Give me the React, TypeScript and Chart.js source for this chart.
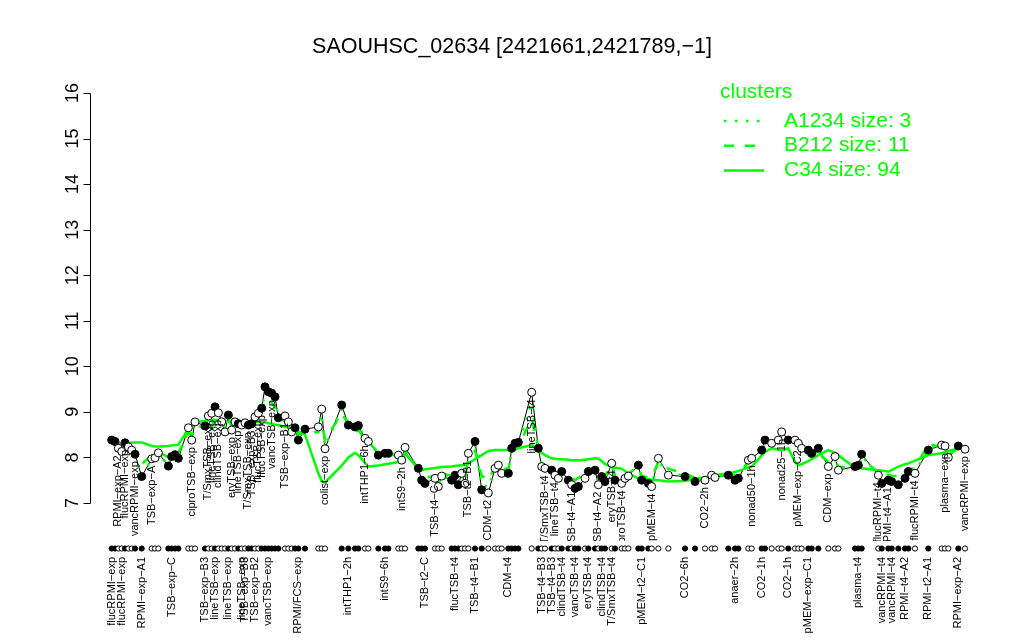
import React, { useEffect, useRef } from "react";
import { Chart, registerables } from "chart.js";

Chart.register(...registerables);

const _ = null;

const TITLE = "SAOUHSC_02634 [2421661,2421789,\u22121]";
const Y_TICKS = [7, 8, 9, 10, 11, 12, 13, 14, 15, 16];
const Y_MIN = 5.5;
const Y_MAX = 16.5;
const RUG_LEVEL = 6;

// expression of the gene per condition slot (null = empty slot between condition groups)
const expression: (number | null)[] = [
  8.38, 8.35, 8.2, 8.13, 8.32, 8.23, 8.16, 8.07, _, 7.58,
  _, _, 7.97, 7.99, 8.1, _, _, 7.81, 8.02, 8.06,
  7.98, _, _, 8.65, 8.38, 8.78, _, _, 8.69, 8.91,
  8.97, 9.11, 8.98, 8.78, 8.56, 8.93, 8.6, 8.78, 8.74, 8.71,
  8.76, 8.71, 8.74, 8.89, 8.97, 9.08, 9.55, 9.44, 9.41, 9.33,
  8.87, _, 8.91, 8.78, 8.56, 8.65, 8.38, _, 8.62, _,
  _, _, 8.67, 9.06, 8.19, _, _, _, _, 9.15,
  _, 8.71, _, 8.67, 8.7, _, 8.42, 8.35, _, _,
  8.05, _, 8.09, 8.09, _, _, 8.05, 7.94, 8.22, _,
  _, _, 7.76, 7.5, 7.43, _, _, 7.54, 7.36, 7.59,
  _, _, 7.5, 7.61, 7.4, 7.65, 7.43, 8.09, _, 8.35,
  _, 7.29, _, 7.22, _, 7.76, 7.83, 7.65, _, 7.65,
  8.2, 8.31, 8.33, _, _, _, 9.43, _, 8.2, 7.8,
  7.76, _, 7.72, 7.61, 7.54, 7.69, _, 7.5, 7.4, 7.32,
  7.36, _, 7.54, 7.69, _, 7.72, 7.4, 7.58, 7.47, _,
  7.87, 7.5, _, 7.43, 7.54, 7.59, _, _, 7.83, 7.5,
  _, 7.43, 7.36, _, 7.98, _, _, 7.61, _, _,
  _, _, 7.58, _, _, 7.47, _, _, 7.5, _,
  7.61, 7.56, _, _, _, 7.61, _, 7.5, 7.54, _,
  _, 7.94, 7.98, _, _, 8.16, 8.38, _, 8.31, _,
  8.38, 8.56, _, 8.38, _, 8.38, 8.31, 8.2, _, 8.16,
  8.09, _, 8.2, _, _, 7.8, _, 8.02, 7.72, _,
  _, _, _, 7.8, 7.83, 8.07, _, _, _, _,
  7.61, 7.43, _, 7.5, 7.47, _, 7.4, _, 7.54, 7.69,
  _, 7.65, _, _, _, 8.16, _, _, _, 8.27,
  8.25, 8.0, _, _, 8.25, _, 8.18,
];

// F = filled marker, O = open marker, . = empty slot
const filled =
  "FFOOFOOF.F" + "..OOO..FFF" + "F..OOO..FO" + "OFOOOFOOFO" + "OFFOOFFFFF" +
  "F.OOOFF.F." + "..OOO....F" + ".F.FF.OO.." + "F.FF..OOO." + "..FFF..OOO" +
  "..FFFOOO.F" + ".F.O.OOO.F" + "FFF...O.FO" + "O.FOOF.FOF" + "F.OF.FOFF." +
  "OF.OOO..FF" + ".FO.O..O.." + "..F..F..O." + "OO...F.FF." + ".OO..FF.O." +
  "OO.F.OOO.F" + "F.F..O.OO." + "...FFF...." + "OF.FF.F.FF" + ".O...F...O" +
  "OO..F.O";

const clusterC34: (number | null)[] = [
  8.3, 8.3, 8.31, 8.31, 8.32, 8.32, 8.32, 8.33, _, 8.33,
  _, _, 8.25, 8.24, 8.24, _, _, 8.25, 8.26, 8.27,
  8.28, _, _, 8.62, 8.68, 8.78, _, _, 8.8, 8.81,
  8.82, 8.82, 8.82, 8.8, 8.79, 8.78, 8.77, 8.76, 8.75, 8.75,
  8.76, 8.77, 8.77, 8.78, 8.78, 8.78, 8.77, 8.75, 8.74, 8.72,
  8.71, _, 8.67, 8.65, 8.63, 8.6, 8.57, _, 8.5, _,
  _, _, 7.65, 7.48, 7.45, _, _, _, _, 7.82,
  _, 8.0, _, 8.1, 8.05, _, 7.88, 7.8, _, _,
  7.82, _, 7.85, 7.86, _, _, 7.9, 7.95, 8.09, _,
  _, _, 7.75, 7.72, 7.74, _, _, 7.77, 7.78, 7.79,
  _, _, 7.8, 7.81, 7.82, 7.83, 7.84, 7.87, _, 7.96,
  _, 8.05, _, 8.14, _, 8.16, 8.16, 8.16, _, 8.16,
  8.16, 8.18, 8.2, _, _, _, 8.27, _, 8.15, 8.1,
  8.05, _, 7.98, 7.97, 7.96, 7.96, _, 7.95, 7.94, 7.94,
  7.94, _, 7.95, 7.96, _, 7.98, 7.97, 7.92, 7.85, _,
  7.8, 7.78, _, 7.75, 7.7, 7.65, _, _, 7.54, 7.53,
  _, 7.52, 7.51, _, 7.5, _, _, 7.47, _, _,
  _, _, 7.48, _, _, 7.53, _, _, 7.56, _,
  7.59, 7.61, _, _, _, 7.65, _, 7.68, 7.7, _,
  _, 7.78, 7.8, _, _, 8.04, 8.12, _, 8.2, _,
  8.17, 8.16, _, 8.2, _, 7.9, 7.83, 7.85, _, 7.92,
  7.96, _, 8.05, _, _, 8.16, _, 8.1, 8.05, _,
  _, _, _, 7.77, 7.76, 7.76, _, _, _, _,
  7.72, 7.71, _, 7.69, 7.72, _, 7.8, _, 7.85, 7.87,
  _, 7.93, _, _, _, 8.05, _, _, _, 8.09,
  8.12, 8.14, _, _, 8.19, _, 8.22,
];

const clusterB212: (number | null)[] = [
  8.3, 8.28, 8.25, 8.22, 8.25, 8.22, 8.2, 8.15, _, 7.85,
  _, _, 8.05, 8.1, 8.12, _, _, 8.0, 8.1, 8.12,
  8.1, _, _, 8.55, 8.5, 8.7, _, _, 8.65, 8.8,
  8.65, 8.95, 8.9, 8.78, 8.65, 8.85, 8.7, 8.75, 8.72, 8.7,
  8.75, 8.75, 8.78, 8.85, 8.95, 9.0, 9.3, 9.25, 9.2, 9.1,
  8.85, _, 8.8, 8.75, 8.65, 8.62, 8.5, _, 8.55, _,
  _, _, 8.55, 8.75, 8.4, _, _, _, _, 8.95,
  _, 8.75, _, 8.55, 8.6, _, 8.4, 8.35, _, _,
  8.1, _, 8.1, 8.1, _, _, 8.0, 7.9, 8.1, _,
  _, _, 7.75, 7.6, 7.55, _, _, 7.6, 7.5, 7.65,
  _, _, 7.6, 7.65, 7.55, 7.7, 7.55, 7.95, _, 8.15,
  _, 7.6, _, 7.5, _, 7.8, 7.85, 7.75, _, 7.75,
  8.1, 8.2, 8.25, _, _, _, 8.85, _, 8.2, 7.85,
  7.8, _, 7.78, 7.7, 7.65, 7.75, _, 7.6, 7.55, 7.5,
  7.55, _, 7.65, 7.75, _, 7.75, 7.55, 7.65, 7.6, _,
  7.85, 7.6, _, 7.55, 7.6, 7.65, _, _, 7.8, 7.6,
  _, 7.55, 7.55, _, 7.9, _, _, 7.75, _, _,
  _, _, 7.65, _, _, 7.55, _, _, 7.55, _,
  7.6, 7.6, _, _, _, 7.65, _, 7.6, 7.62, _,
  _, 7.9, 7.92, _, _, 8.1, 8.3, _, 8.3, _,
  8.38, 8.52, _, 8.4, _, 8.35, 8.28, 8.2, _, 8.05,
  8.0, _, 8.1, _, _, 7.9, _, 7.95, 7.8, _,
  _, _, _, 7.75, 7.78, 7.95, _, _, _, _,
  7.68, 7.6, _, 7.62, 7.6, _, 7.58, _, 7.65, 7.75,
  _, 7.75, _, _, _, 8.3, _, _, _, 8.22,
  8.2, 8.05, _, _, 8.2, _, 8.15,
];

const clusterA1234: (number | null)[] = [
  8.35, 8.3, 8.2, 8.18, 8.28, 8.2, 8.15, 8.05, _, 7.6,
  _, _, 7.95, 8.0, 8.05, _, _, 7.85, 8.0, 8.05,
  8.0, _, _, 8.6, 8.4, 8.75, _, _, 8.7, 8.85,
  8.9, 9.05, 8.95, 8.8, 8.6, 8.9, 8.62, 8.78, 8.75, 8.72,
  8.75, 8.72, 8.75, 8.88, 8.95, 9.05, 9.45, 9.4, 9.35, 9.25,
  8.9, _, 8.88, 8.78, 8.6, 8.65, 8.42, _, 8.6, _,
  _, _, 8.62, 8.95, 8.25, _, _, _, _, 9.05,
  _, 8.72, _, 8.65, 8.68, _, 8.45, 8.38, _, _,
  8.08, _, 8.1, 8.08, _, _, 8.05, 7.95, 8.15, _,
  _, _, 7.75, 7.55, 7.48, _, _, 7.55, 7.42, 7.6,
  _, _, 7.52, 7.62, 7.45, 7.65, 7.48, 8.0, _, 8.28,
  _, 7.4, _, 7.35, _, 7.75, 7.82, 7.68, _, 7.68,
  8.15, 8.28, 8.3, _, _, _, 9.2, _, 8.18, 7.82,
  7.78, _, 7.73, 7.63, 7.57, 7.7, _, 7.53, 7.45, 7.38,
  7.42, _, 7.57, 7.7, _, 7.72, 7.45, 7.6, 7.5, _,
  7.85, 7.53, _, 7.47, 7.55, 7.6, _, _, 7.82, 7.53,
  _, 7.47, 7.42, _, 7.92, _, _, 7.65, _, _,
  _, _, 7.6, _, _, 7.5, _, _, 7.52, _,
  7.6, 7.57, _, _, _, 7.62, _, 7.53, 7.56, _,
  _, 7.92, 7.95, _, _, 8.15, 8.35, _, 8.3, _,
  8.37, 8.54, _, 8.38, _, 8.36, 8.3, 8.2, _, 8.12,
  8.05, _, 8.15, _, _, 7.82, _, 7.98, 7.75, _,
  _, _, _, 7.78, 7.8, 8.02, _, _, _, _,
  7.63, 7.48, _, 7.53, 7.5, _, 7.45, _, 7.57, 7.7,
  _, 7.68, _, _, _, 8.2, _, _, _, 8.25,
  8.23, 8.02, _, _, 8.23, _, 8.17,
];

// condition names shown under the axis (keyed by slot)
const axisLabels: Record<number, string> = {
  0: "flucRPMI-exp", 3: "flucRPMI-exp", 9: "RPMI-exp-A1", 18: "TSB-exp-C",
  28: "TSB-exp-B3", 31: "lineTSB-exp", 35: "lineTSB-exp", 39: "lineTSB-exp",
  40: "TSB-exp-B3", 43: "TSB-exp-B2", 47: "vancTSB-exp", 56: "RPMI/FCS-exp",
  71: "intTHP1-2h", 82: "intS9-6h", 94: "TSB-t2-C", 103: "flucTSB-t4",
  109: "TSB-t4-B1", 119: "CDM-t4", 129: "TSB-t4-B3", 132: "TSB-t4-B3",
  135: "clindTSB-t4", 139: "vancTSB-t4", 143: "eryTSB-t4", 147: "clindTSB-t4",
  150: "T/SmxTSB-t4", 159: "pMEM-t2-C1", 172: "CO2-6h", 187: "anaer-2h",
  195: "CO2-1h", 203: "CO2-1h", 209: "pMEM-exp-C1", 224: "plasma-t4",
  231: "vancRPMI-t4", 234: "vancRPMI-t4", 238: "RPMI-t4-A2", 245: "RPMI-t2-A1",
  254: "RPMI-exp-A2",
};

// condition names written next to their points
const pointLabels: Record<number, string> = {
  2: "RPMI-exp-A2", 4: "flucRPMI-exp", 7: "vancRPMI-exp", 12: "TSB-exp-A",
  24: "ciproTSB-exp", 29: "T/SmxTSB-exp", 30: "lineTSB-exp", 32: "clindTSB-exp",
  36: "eryTSB-exp", 38: "lineTSB-exp", 41: "T/SmxTSB-exp", 42: "TSB-exp-B3",
  44: "flucTSB-exp", 45: "flucTSB-exp", 48: "vancTSB-exp", 52: "TSB-exp-B1",
  64: "colist-exp", 76: "intTHP1-6h", 87: "intS9-2h", 97: "TSB-t4-C",
  107: "TSB-t2-B1", 113: "CDM-t2", 126: "lineTSB-t4", 130: "T/SmxTSB-t4",
  133: "lineTSB-t4", 138: "TSB-t4-A1", 146: "TSB-t4-A2", 150: "eryTSB-t4",
  153: "ciproTSB-t4", 162: "pMEM-t4", 178: "CO2-2h", 192: "nonad50-1h",
  201: "nonad25-1h", 206: "pMEM-exp-C2", 215: "CDM-exp", 230: "flucRPMI-t4",
  233: "RPMI-t4-A1", 241: "flucRPMI-t4", 250: "plasma-exp", 256: "vancRPMI-exp",
};

const clusterNames = ["A1234", "B212", "C34"];
const clusterSizes = [3, 11, 94];

const GREEN = "#00ff00";
const FONT = "'Liberation Sans', Arial, Helvetica, sans-serif";
const DOT = [2.5, 8.5];
const DASH = [10, 11];

const minus = (s: string) => s.replace(/-/g, "\u2212");

function vtext(ctx: CanvasRenderingContext2D, s: string, x: number, y: number, align: CanvasTextAlign, baseline: CanvasTextBaseline) {
  ctx.save();
  ctx.translate(x, y);
  ctx.rotate(-Math.PI / 2);
  ctx.textAlign = align;
  ctx.textBaseline = baseline;
  ctx.fillText(s, 0, 0);
  ctx.restore();
}

const decor = {
  id: "decor",
  afterDatasetsDraw(chart: any) {
    const ctx: CanvasRenderingContext2D = chart.ctx;
    const xs = chart.scales.x;
    const ys = chart.scales.y;
    const y7 = ys.getPixelForValue(7);
    ctx.save();
    ctx.fillStyle = "#000";
    ctx.font = `11px ${FONT}`;
    // axis labels under the rug
    Object.keys(axisLabels).forEach((k) => {
      const i = Number(k);
      vtext(ctx, minus(axisLabels[i]), xs.getPixelForValue(i), y7 + 54, "right", "middle");
    });
    // labels next to points (clipped above the rug)
    ctx.save();
    ctx.beginPath();
    ctx.rect(0, 0, chart.width, y7 + 38);
    ctx.clip();
    Object.keys(pointLabels).forEach((k) => {
      const i = Number(k);
      const v = expression[i];
      if (v == null) return;
      vtext(ctx, minus(pointLabels[i]), xs.getPixelForValue(i), ys.getPixelForValue(v) + 7, "right", "middle");
    });
    ctx.restore();

    // y axis
    const ax = 90.5;
    const yTop = ys.getPixelForValue(Y_TICKS[Y_TICKS.length - 1]);
    ctx.strokeStyle = "#000";
    ctx.lineWidth = 1;
    ctx.beginPath();
    ctx.moveTo(ax, Math.round(y7) + 0.5);
    ctx.lineTo(ax, Math.round(yTop) + 0.5);
    Y_TICKS.forEach((t) => {
      const py = Math.round(ys.getPixelForValue(t)) + 0.5;
      ctx.moveTo(ax, py);
      ctx.lineTo(ax - 7, py);
    });
    ctx.stroke();
    ctx.font = `18px ${FONT}`;
    Y_TICKS.forEach((t) => {
      vtext(ctx, String(t), 78, ys.getPixelForValue(t), "center", "alphabetic");
    });

    // title
    ctx.font = `21.5px ${FONT}`;
    ctx.textAlign = "center";
    ctx.textBaseline = "middle";
    ctx.fillText(TITLE, chart.width / 2, 47);

    // legend
    ctx.fillStyle = GREEN;
    ctx.strokeStyle = GREEN;
    ctx.font = `21px ${FONT}`;
    ctx.textAlign = "left";
    ctx.fillText("clusters", 720, 92);
    const dashes = [DOT, DASH, []];
    clusterNames.forEach((n, i) => {
      const ly = 121 + i * 24.7;
      ctx.setLineDash(dashes[i]);
      ctx.lineWidth = 2.5;
      ctx.beginPath();
      ctx.moveTo(724, ly);
      ctx.lineTo(764, ly);
      ctx.stroke();
      ctx.setLineDash([]);
      ctx.fillText(`${n} size: ${clusterSizes[i]}`, 784, ly);
    });
    ctx.restore();
  },
};

export default function App() {
  const ref = useRef<HTMLCanvasElement>(null);
  useEffect(() => {
    const categories = expression.map((_v, i) => axisLabels[i] ?? pointLabels[i] ?? "");
    const fills = expression.map((_v, i) => (filled[i] === "F" ? "#000000" : "#ffffff"));
    const rug = expression.map((v) => (v == null ? null : RUG_LEVEL));
    const chart = new Chart(ref.current as HTMLCanvasElement, {
      type: "line",
      data: {
        labels: categories,
        datasets: [
          {
            data: expression,
            showLine: false,
            pointRadius: 4,
            pointBorderWidth: 1,
            pointBorderColor: "#000",
            pointBackgroundColor: fills,
          },
          {
            data: rug,
            showLine: false,
            pointRadius: 2.6,
            pointBorderWidth: 1,
            pointBorderColor: "#000",
            pointBackgroundColor: fills,
          },
          {
            data: clusterC34,
            borderColor: GREEN,
            borderWidth: 2.5,
            pointRadius: 0,
            spanGaps: true,
          },
          {
            data: clusterB212,
            borderColor: GREEN,
            borderWidth: 2.5,
            borderDash: DASH,
            pointRadius: 0,
            spanGaps: true,
          },
          {
            data: clusterA1234,
            borderColor: GREEN,
            borderWidth: 2.5,
            borderDash: DOT,
            pointRadius: 0,
            spanGaps: true,
          },
          {
            data: expression,
            borderColor: "#000",
            borderWidth: 1,
            pointRadius: 0,
            spanGaps: true,
          },
        ],
      } as any,
      options: {
        responsive: false,
        animation: false,
        layout: { padding: { left: 111.7, right: 59, top: 70.2, bottom: 68.7 } },
        plugins: { legend: { display: false }, tooltip: { enabled: false }, title: { display: false } },
        elements: { line: { tension: 0 } },
        scales: {
          x: { type: "category", display: false, offset: false },
          y: { type: "linear", display: false, min: Y_MIN, max: Y_MAX },
        },
      } as any,
      plugins: [decor],
    });
    return () => chart.destroy();
  }, []);
  return (
    <div style={{ position: "fixed", left: 0, top: 0, width: 1024, height: 640, background: "#fff" }}>
      <canvas ref={ref} width={1024} height={640} style={{ display: "block" }} />
    </div>
  );
}
